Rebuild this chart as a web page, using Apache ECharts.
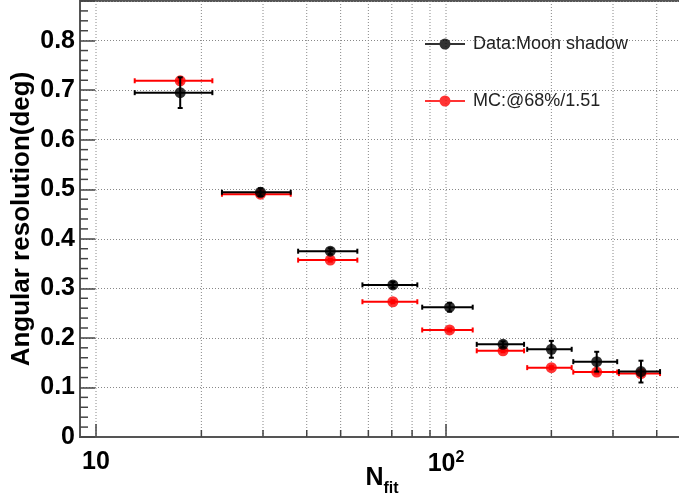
<!DOCTYPE html>
<html>
<head>
<meta charset="utf-8">
<script src="https://cdn.jsdelivr.net/npm/echarts@6/dist/echarts.min.js"></script>
<style>
  html, body { margin: 0; padding: 0; background: #fff; }
  #chart { width: 679px; height: 494px; }
</style>
</head>
<body>
<div id="chart"></div>
<script>
// N_fit bins (log x axis)
const binCenter = [17.4, 29.5, 46.7, 70.5, 102.4, 145.5, 200, 269.5, 360.6]
const binLow = [12.9, 22.9, 37.8, 57.7, 85.5, 122.4, 170.6, 231, 311.9]
const binHigh = [21.5, 36.0, 55.8, 82.8, 119.2, 167.1, 228.6, 308.4, 408.8]

// angular resolution (deg)
const dataRes = [0.695, 0.494, 0.375, 0.307, 0.262, 0.187, 0.177, 0.152, 0.132]
const dataErr = [0.031, 0.008, 0.006, 0.006, 0.009, 0.006, 0.017, 0.020, 0.022]
const mcRes = [0.719, 0.490, 0.357, 0.273, 0.216, 0.174, 0.140, 0.131, 0.128]
const mcErr = [0.004, 0.003, 0.003, 0.003, 0.003, 0.003, 0.003, 0.003, 0.003]

const xGridTicks = [10, 20, 30, 40, 50, 60, 70, 80, 90, 100, 200, 300, 400]
const xMajor = [10, 100]
const yMin = 0
const yMax = 0.88
const xMin = 9
const xMax = 478.6

const seriesNames = ['Data:Moon shadow', 'MC:@68%/1.51']
const FONT = 'Liberation Sans'

// y minor ticks every 0.02 (skipping the labelled 0.1 steps)
const yMinorTicks = []
for (let i = 1; i < 44; i++) {
  if (i % 5 !== 0) yMinorTicks.push(+(i * 0.02).toFixed(2))
}

function errRows(res, err) {
  return binCenter.map((x, i) => [x, res[i], binLow[i], binHigh[i], res[i] - err[i], res[i] + err[i]])
}

function errorBarRender(color, width) {
  return function(params, api) {
    const x = api.value(0)
    const y = api.value(1)
    const l = api.coord([api.value(2), y])
    const r = api.coord([api.value(3), y])
    const b = api.coord([x, api.value(4)])
    const t = api.coord([x, api.value(5)])
    const style = { stroke: color, lineWidth: width }
    const cap = 2.5
    return {
      type: 'group',
      children: [
        { type: 'line', shape: { x1: l[0], y1: l[1], x2: r[0], y2: r[1] }, style },
        { type: 'line', shape: { x1: l[0], y1: l[1] - cap, x2: l[0], y2: l[1] + cap }, style },
        { type: 'line', shape: { x1: r[0], y1: r[1] - cap, x2: r[0], y2: r[1] + cap }, style },
        { type: 'line', shape: { x1: b[0], y1: b[1], x2: t[0], y2: t[1] }, style },
        { type: 'line', shape: { x1: b[0] - cap, y1: b[1], x2: b[0] + cap, y2: b[1] }, style },
        { type: 'line', shape: { x1: t[0] - cap, y1: t[1], x2: t[0] + cap, y2: t[1] }, style }
      ]
    }
  }
}

const legendIcon = 'path://M0,5L40,5L40,7L0,7Z M20,0.5A5.5,5.5 0 1 1 20,11.5A5.5,5.5 0 1 1 20,0.5Z'

const chart = echarts.init(document.getElementById('chart'), null, { renderer: 'canvas' })

chart.setOption({
  animation: false,
  backgroundColor: '#fff',
  grid: {
    left: 80,
    right: -5,
    top: 1,
    bottom: 57,
    outerBoundsMode: 'none',
    containLabel: false,
    show: true,
    borderColor: '#555',
    borderWidth: 2,
    backgroundColor: 'transparent'
  },
  legend: {
    orient: 'vertical',
    left: 425,
    top: 35,
    padding: 0,
    itemWidth: 40,
    itemHeight: 12,
    itemGap: 39,
    textStyle: { fontFamily: FONT, fontSize: 18, color: '#222', padding: [0, 0, 0, 3] },
    data: [
      { name: seriesNames[0], icon: legendIcon },
      { name: seriesNames[1], icon: legendIcon }
    ]
  },
  xAxis: {
    type: 'log',
    logBase: 10,
    min: xMin,
    max: xMax,
    name: '{n|N}{sub|fit}',
    nameLocation: 'middle',
    nameGap: 22,
    nameMoveOverlap: false,
    nameTextStyle: {
      rich: {
        n: { fontFamily: FONT, fontWeight: 'bold', fontSize: 25, color: '#000' },
        sub: { fontFamily: FONT, fontWeight: 'bold', fontSize: 16, color: '#000', padding: [22, 0, 0, 0] }
      }
    },
    axisLine: { show: true, lineStyle: { color: '#555', width: 2 } },
    axisTick: { show: false },
    splitLine: { show: false },
    axisLabel: {
      margin: 13,
      showMinLabel: true,
      showMaxLabel: true,
      formatter: function(v) {
        const e = Math.round(Math.log10(v))
        if (Math.abs(v - Math.pow(10, e)) > 1e-6 * v) return ''
        return e === 1 ? '{b|10}' : '{b|10}{s|' + e + '}'
      },
      rich: {
        b: { fontFamily: FONT, fontWeight: 'bold', fontSize: 25, color: '#000' },
        s: { fontFamily: FONT, fontWeight: 'bold', fontSize: 16, color: '#000', padding: [0, 0, 12, 0] }
      }
    }
  },
  yAxis: {
    type: 'value',
    min: yMin,
    max: yMax,
    interval: 0.1,
    name: 'Angular resolution(deg)',
    nameLocation: 'middle',
    nameGap: 45,
    nameMoveOverlap: false,
    nameTextStyle: { fontFamily: FONT, fontWeight: 'bold', fontSize: 26, color: '#000' },
    axisLine: { show: true, lineStyle: { color: '#555', width: 2 } },
    axisTick: { show: true, inside: true, length: 15, lineStyle: { color: '#444', width: 1.5 } },
    minorTick: { show: false },
    splitLine: { show: true, lineStyle: { color: '#888', width: 1, type: [1, 2] } },
    axisLabel: {
      margin: 5,
      fontFamily: FONT,
      fontWeight: 'bold',
      fontSize: 25,
      color: '#000',
      formatter: function(v) {
        if (Math.abs(v * 10 - Math.round(v * 10)) > 1e-6) return ''
        return v === 0 ? '0' : v.toFixed(1)
      }
    }
  },
  series: [
    {
      // vertical dotted grid and inside x ticks
      type: 'custom',
      name: 'xgrid',
      silent: true,
      z: 1,
      data: xGridTicks.map(v => [v, yMin]),
      renderItem: function(params, api) {
        const v = api.value(0)
        const b = api.coord([v, yMin])
        const t = api.coord([v, yMax])
        const len = xMajor.indexOf(v) >= 0 ? 13 : 7
        return {
          type: 'group',
          children: [
            { type: 'line', shape: { x1: b[0], y1: b[1], x2: t[0], y2: t[1] }, style: { stroke: '#888', lineWidth: 1, lineDash: [1, 2] } },
            { type: 'line', shape: { x1: b[0], y1: b[1], x2: b[0], y2: b[1] - len }, style: { stroke: '#444', lineWidth: 1.5 } }
          ]
        }
      }
    },
    {
      // inside y minor ticks
      type: 'custom',
      name: 'yminor',
      silent: true,
      z: 1,
      data: yMinorTicks.map(v => [xMin, v]),
      renderItem: function(params, api) {
        const p = api.coord([xMin, api.value(1)])
        const x0 = params.coordSys.x
        return { type: 'line', shape: { x1: x0, y1: p[1], x2: x0 + 8, y2: p[1] }, style: { stroke: '#444', lineWidth: 1.5 } }
      }
    },
    {
      type: 'custom',
      name: 'mcErr',
      silent: true,
      z: 3,
      data: errRows(mcRes, mcErr),
      renderItem: errorBarRender('#ff0000', 2)
    },
    {
      type: 'scatter',
      name: seriesNames[1],
      z: 4,
      symbol: 'circle',
      symbolSize: 11,
      itemStyle: { color: '#ff0000' },
      data: binCenter.map((x, i) => [x, mcRes[i]])
    },
    {
      type: 'custom',
      name: 'dataErr',
      silent: true,
      z: 5,
      data: errRows(dataRes, dataErr),
      renderItem: errorBarRender('#000000', 2)
    },
    {
      type: 'scatter',
      name: seriesNames[0],
      z: 6,
      symbol: 'circle',
      symbolSize: 11,
      itemStyle: { color: '#000000' },
      data: binCenter.map((x, i) => [x, dataRes[i]])
    }
  ]
})
</script>
</body>
</html>
